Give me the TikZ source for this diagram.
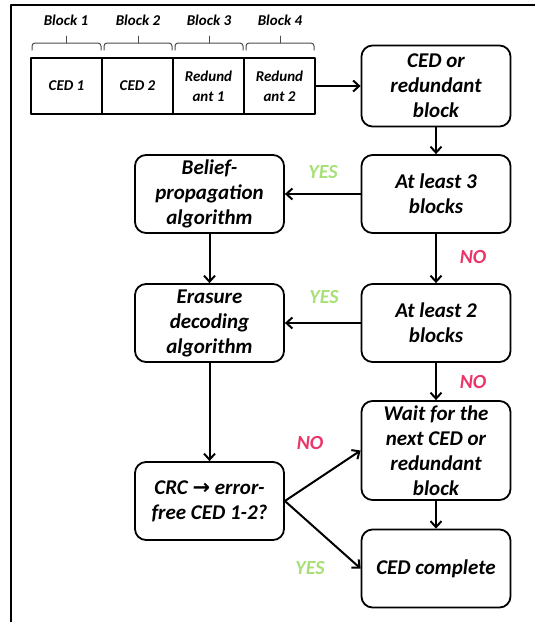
\documentclass[tikz,border=0pt]{standalone}
\usepackage{fontspec}
\setmainfont{Carlito}
\newfontfamily\arrowfont{DejaVu Sans}
\usetikzlibrary{arrows.meta}
\definecolor{yesgreen}{RGB}{168,224,120}
\definecolor{nored}{RGB}{236,52,104}

\begin{document}
\begin{tikzpicture}[line cap=round,line join=round,>={Straight Barb[length=6pt,width=11pt]},x=1pt,y=-1pt,
flowbox/.style={draw,line width=1.8pt,rounded corners=11pt,minimum width=149pt,minimum height=78pt,inner sep=0pt,align=center,font=\fontsize{21}{25}\selectfont\bfseries\itshape},
cell/.style={draw,line width=1.5pt,minimum width=71pt,minimum height=56pt,inner sep=0pt,outer sep=0pt,align=center,font=\fontsize{15}{20}\selectfont\bfseries\itshape},
blklabel/.style={font=\fontsize{15}{18}\selectfont\bfseries\itshape},
bracket/.style={draw=black!70,line width=1pt,rounded corners=3pt},
flowline/.style={->,line width=2pt},
yes/.style={text=yesgreen,font=\fontsize{20}{24}\selectfont\bfseries\itshape},
no/.style={text=nored,font=\fontsize{20}{24}\selectfont\bfseries\itshape}]

\useasboundingbox (0,0) rectangle (535,622);
\draw[line width=2.2pt] (11,622) -- (11,5) -- (535,5);

% code blocks
\node[cell,anchor=west] (ced1) at (31,86) {CED 1};
\node[cell,anchor=west] (ced2) at (ced1.east) {CED 2};
\node[cell,anchor=west] (red1) at (ced2.east) {Redund\\ant 1};
\node[cell,anchor=west] (red2) at (red1.east) {Redund\\ant 2};

\begin{scope}
\draw[bracket] (32,50) -- (32,43) -- (101,43) -- (101,50);
\draw[bracket] (104,50) -- (104,43) -- (172,43) -- (172,50);
\draw[bracket] (175,50) -- (175,43) -- (243,43) -- (243,50);
\draw[bracket] (246,50) -- (246,43) -- (314,43) -- (314,50);
\draw[draw=black!70,line width=1pt] (66,43) -- (66,36);
\draw[draw=black!70,line width=1pt] (138,43) -- (138,36);
\draw[draw=black!70,line width=1pt] (209,43) -- (209,36);
\draw[draw=black!70,line width=1pt] (280,43) -- (280,36);
\end{scope}
\node[blklabel] (blk1) at (66,20) {Block 1};
\node[blklabel] (blk2) at (138,20) {Block 2};
\node[blklabel] (blk3) at (209,20) {Block 3};
\node[blklabel] (blk4) at (280,20) {Block 4};

% flow chart
\node[flowbox,minimum height=81pt] (cedblk) at (436,86) {CED or\\redundant\\block};
\node[flowbox] (atl3) at (436,194) {At least 3\\blocks};
\node[flowbox] (belief) at (209.5,194) {Belief-\\propagation\\algorithm};
\node[flowbox] (atl2) at (436,323) {At least 2\\blocks};
\node[flowbox] (erasure) at (209.5,323) {Erasure\\decoding\\algorithm};
\node[flowbox,minimum height=99pt] (wait) at (436,450.5) {Wait for the\\next CED or\\redundant\\block};
\node[flowbox] (crc) at (209.5,501) {CRC {\arrowfont\bfseries\upshape →} error-\\free CED 1-2?};
\node[flowbox] (cedcomp) at (436,568.5) {CED complete};

\draw[flowline] (red2) -- (cedblk);
\draw[flowline] (cedblk) -- (atl3);
\draw[flowline] (atl3) -- (belief);
\draw[flowline] (atl3) -- (atl2);
\draw[flowline] (belief) -- (erasure);
\draw[flowline] (atl2) -- (erasure);
\draw[flowline] (atl2) -- (wait);
\draw[flowline] (erasure) -- (crc);
\draw[flowline] (wait) -- (cedcomp);
\draw[flowline] (crc.east) -- (wait.west);
\draw[flowline] (crc.east) -- (cedcomp.west);

\node[yes] (yes1) at (323,172) {YES};
\node[yes] (yes2) at (324,297) {YES};
\node[yes] (yes3) at (310,568) {YES};
\node[no] (no1) at (473,257) {NO};
\node[no] (no2) at (473,382) {NO};
\node[no] (no3) at (310,443) {NO};
\end{tikzpicture}
\end{document}
